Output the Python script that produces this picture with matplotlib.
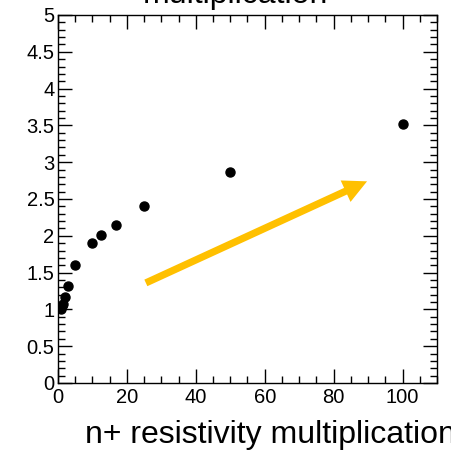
import numpy as np
import matplotlib
matplotlib.use('Agg')
import matplotlib.pyplot as plt
from matplotlib.ticker import MultipleLocator

plt.rcParams['font.family'] = ['Liberation Sans', 'DejaVu Sans']

# n+ resistivity multiplication factor vs. relative value
mult = [1, 1.25, 1.5, 2, 3, 5, 10, 12.5, 16.7, 25, 50, 100]
ratio = [1.0, 1.04, 1.08, 1.17, 1.32, 1.60, 1.90, 2.01, 2.15, 2.40, 2.87, 3.52]

# arrow (start -> end) in data coords
arrow_start = (25.5, 1.36)
arrow_end = (89.7, 2.74)

fig = plt.figure(figsize=(4.52, 4.51), dpi=100)
ax = fig.add_axes([58/452, 1-383/451, 379/452, 368/451])

ax.plot(mult, ratio, 'o', color='black', markersize=6.5)

ax.annotate('', xy=arrow_end, xytext=arrow_start,
            arrowprops=dict(arrowstyle='simple,head_length=0.85,head_width=0.85,tail_width=0.26',
                            lw=0, color='#FFC000', mutation_scale=20,
                            shrinkA=0, shrinkB=0))

ax.set_xlim(0, 110)
ax.set_ylim(0, 5)
ax.xaxis.set_major_locator(MultipleLocator(20))
ax.xaxis.set_minor_locator(MultipleLocator(5))
ax.yaxis.set_major_locator(MultipleLocator(0.5))
ax.yaxis.set_minor_locator(MultipleLocator(0.1))
ax.set_yticks(np.arange(0, 5.01, 0.5))
ax.set_yticklabels(['0', '0.5', '1', '1.5', '2', '2.5', '3', '3.5', '4', '4.5', '5'])
ax.tick_params(which='both', direction='in', top=True, right=True,
               labelsize=14.5)
ax.tick_params(axis='x', pad=3.5)
ax.tick_params(axis='y', pad=2.5)
ax.tick_params(which='major', length=10, width=1)
ax.tick_params(which='minor', length=5, width=1)
for s in ax.spines.values():
    s.set_linewidth(1)

fig.text(0.52, 1 - 3/451, 'multiplication', ha='center', va='baseline', fontsize=23)
fig.text(85/452, 1 - 443/451, 'n+ resistivity multiplication', ha='left',
         va='baseline', fontsize=23)

fig.savefig('out.png', dpi=100)
